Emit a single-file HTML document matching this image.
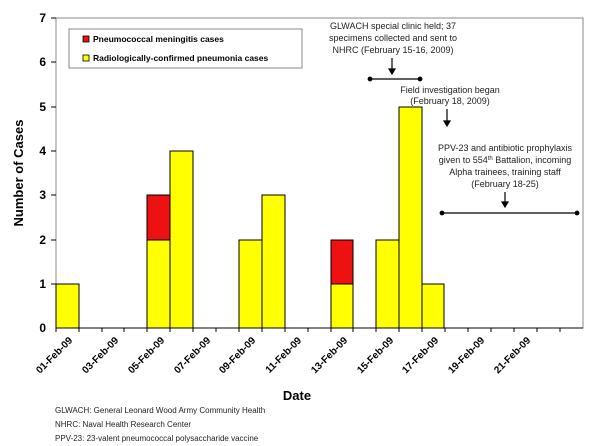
<!DOCTYPE html>
<html><head><style>body{margin:0;background:#fff}svg{display:block}text{font-family:"Liberation Sans",Arial,sans-serif}</style></head><body>
<svg width="600" height="446" viewBox="0 0 600 446">
<rect x="56" y="18" width="527" height="310" fill="none" stroke="#888" stroke-width="1"/>
<g font-size="12" font-weight="bold" text-anchor="end" fill="#000">
<text x="46" y="332">0</text><text x="46" y="288">1</text><text x="46" y="244">2</text><text x="46" y="199">3</text><text x="46" y="155">4</text><text x="46" y="111">5</text><text x="46" y="66">6</text><text x="46" y="22">7</text>
</g>
<g stroke="#000" stroke-width="1">
<line x1="51" y1="18" x2="56" y2="18"/><line x1="51" y1="62" x2="56" y2="62"/><line x1="51" y1="107" x2="56" y2="107"/><line x1="51" y1="151" x2="56" y2="151"/><line x1="51" y1="195" x2="56" y2="195"/><line x1="51" y1="240" x2="56" y2="240"/><line x1="51" y1="284" x2="56" y2="284"/>
<line x1="56" y1="328" x2="583" y2="328"/>
</g>
<g stroke="#000" stroke-width="1">
<rect x="56" y="284" width="23" height="44" fill="#ffff00"/>
<rect x="147" y="240" width="23" height="88" fill="#ffff00"/>
<rect x="147" y="195" width="23" height="45" fill="#ee1111"/>
<rect x="170" y="151" width="23" height="177" fill="#ffff00"/>
<rect x="239" y="240" width="23" height="88" fill="#ffff00"/>
<rect x="262" y="195" width="23" height="133" fill="#ffff00"/>
<rect x="331" y="284" width="22" height="44" fill="#ffff00"/>
<rect x="331" y="240" width="22" height="44" fill="#ee1111"/>
<rect x="376" y="240" width="23" height="88" fill="#ffff00"/>
<rect x="399" y="107" width="23" height="221" fill="#ffff00"/>
<rect x="422" y="284" width="22" height="44" fill="#ffff00"/>
</g>
<g stroke="#000" stroke-width="1">
<line x1="79" y1="328" x2="79" y2="332"/><line x1="102" y1="328" x2="102" y2="332"/><line x1="124" y1="328" x2="124" y2="332"/><line x1="147" y1="328" x2="147" y2="332"/><line x1="170" y1="328" x2="170" y2="332"/><line x1="193" y1="328" x2="193" y2="332"/><line x1="216" y1="328" x2="216" y2="332"/><line x1="239" y1="328" x2="239" y2="332"/><line x1="262" y1="328" x2="262" y2="332"/><line x1="285" y1="328" x2="285" y2="332"/><line x1="308" y1="328" x2="308" y2="332"/><line x1="331" y1="328" x2="331" y2="332"/><line x1="353" y1="328" x2="353" y2="332"/><line x1="376" y1="328" x2="376" y2="332"/><line x1="399" y1="328" x2="399" y2="332"/><line x1="422" y1="328" x2="422" y2="332"/><line x1="445" y1="328" x2="445" y2="332"/><line x1="468" y1="328" x2="468" y2="332"/><line x1="491" y1="328" x2="491" y2="332"/><line x1="514" y1="328" x2="514" y2="332"/><line x1="537" y1="328" x2="537" y2="332"/><line x1="560" y1="328" x2="560" y2="332"/><line x1="56" y1="328" x2="56" y2="332"/>
</g>
<g font-size="10" font-weight="bold" text-anchor="end" fill="#000">
<text transform="translate(73,341) rotate(-45)">01-Feb-09</text>
<text transform="translate(119,341) rotate(-45)">03-Feb-09</text>
<text transform="translate(165,341) rotate(-45)">05-Feb-09</text>
<text transform="translate(211,341) rotate(-45)">07-Feb-09</text>
<text transform="translate(256,341) rotate(-45)">09-Feb-09</text>
<text transform="translate(302,341) rotate(-45)">11-Feb-09</text>
<text transform="translate(348,341) rotate(-45)">13-Feb-09</text>
<text transform="translate(394,341) rotate(-45)">15-Feb-09</text>
<text transform="translate(439,341) rotate(-45)">17-Feb-09</text>
<text transform="translate(485,341) rotate(-45)">19-Feb-09</text>
<text transform="translate(531,341) rotate(-45)">21-Feb-09</text>
</g>
<text x="297" y="400" font-size="13" font-weight="bold" text-anchor="middle">Date</text>
<text transform="translate(23,173) rotate(-90)" font-size="13" font-weight="bold" text-anchor="middle">Number of Cases</text>
<rect x="69" y="29" width="233" height="39" fill="#fff" stroke="#888"/>
<rect x="83" y="36" width="6" height="6" fill="#ee1111" stroke="#000" stroke-width="0.8"/>
<text x="93" y="42" font-size="8.5" font-weight="bold">Pneumococcal meningitis cases</text>
<rect x="83" y="55" width="6" height="6" fill="#ffff00" stroke="#000" stroke-width="0.8"/>
<text x="93" y="61" font-size="8.5" font-weight="bold">Radiologically-confirmed pneumonia cases</text>
<g font-size="9" text-anchor="middle" fill="#222">
<text x="393" y="29">GLWACH special clinic held; 37</text>
<text x="393" y="41">specimens collected and sent to</text>
<text x="393" y="53">NHRC (February 15-16, 2009)</text>
<text x="450" y="93">Field investigation began</text>
<text x="450" y="104">(February 18, 2009)</text>
<text x="505" y="151">PPV-23 and antibiotic prophylaxis</text>
<text x="505" y="163">given to 554<tspan font-size="6" dy="-3">th</tspan><tspan dy="3"> Battalion, incoming</tspan></text>
<text x="505" y="175">Alpha trainees, training staff</text>
<text x="505" y="187">(February 18-25)</text>
</g>
<g stroke="#000" stroke-width="1.2" fill="#000">
<line x1="392" y1="58" x2="392" y2="70"/><path d="M389,69 L395,69 L392,74 z"/>
<line x1="370" y1="79" x2="420" y2="79"/><circle cx="370" cy="79" r="1.8"/><circle cx="420" cy="79" r="1.8"/>
<line x1="447" y1="109" x2="447" y2="122"/><path d="M444,121 L450,121 L447,126 z"/>
<line x1="505" y1="192" x2="505" y2="203"/><path d="M502,202 L508,202 L505,207 z"/>
<line x1="442" y1="213" x2="577" y2="213"/><circle cx="442" cy="213" r="1.8"/><circle cx="577" cy="213" r="1.8"/>
</g>
<g font-size="8" fill="#222">
<text x="55" y="413">GLWACH:  General Leonard Wood Army Community Health</text>
<text x="55" y="427">NHRC:  Naval Health Research Center</text>
<text x="55" y="441">PPV-23:  23-valent pneumococcal polysaccharide vaccine</text>
</g>
</svg>
</body></html>
